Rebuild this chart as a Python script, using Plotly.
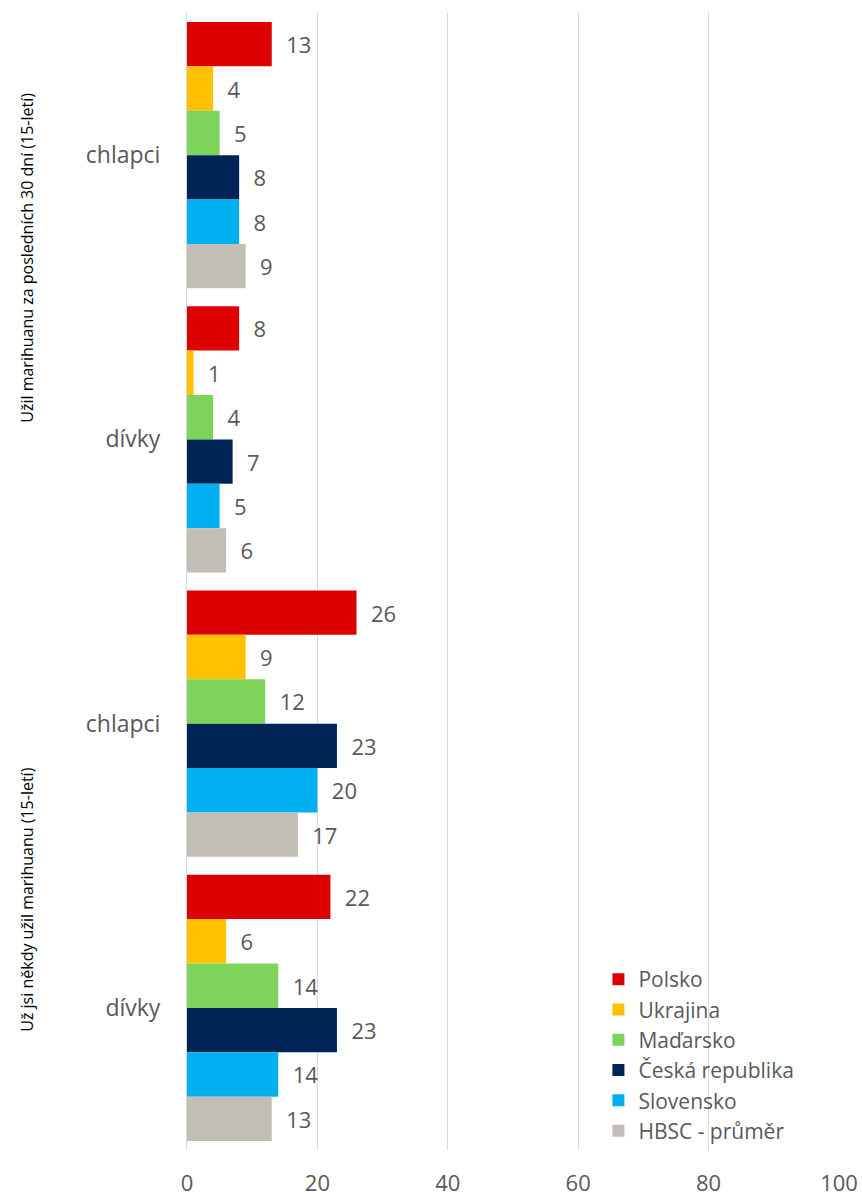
import plotly.graph_objects as go

categories = ["g1|chlapci", "g1|dívky", "g2|chlapci", "g2|dívky"]
tick_labels = ["chlapci", "dívky", "chlapci", "dívky"]
group_labels = ["Užil marihuanu za posledních 30 dní (15-letí)", "Už jsi někdy užil marihuanu (15-letí)"]

series_names = ["Polsko", "Ukrajina", "Maďarsko", "Česká republika", "Slovensko", "HBSC - průměr"]
polsko = [13, 8, 26, 22]
ukrajina = [4, 1, 9, 6]
madarsko = [5, 4, 12, 14]
ceska = [8, 7, 23, 23]
slovensko = [8, 5, 20, 14]
hbsc = [9, 6, 17, 13]
series_values = [polsko, ukrajina, madarsko, ceska, slovensko, hbsc]
colors = ["#DD0000", "#FFC000", "#7ED35A", "#002456", "#00B0F0", "#C3BEB5"]

x_ticks = [0, 20, 40, 60, 80, 100]

FONT = "'Open Sans', sans-serif"
GRAY = "#595959"

fig = go.Figure()
for name, vals, col in zip(series_names, series_values, colors):
    fig.add_trace(go.Bar(
        y=categories, x=vals, name=name, orientation="h",
        marker=dict(color=col, line=dict(width=0)),
        text=[f"  {v}" for v in vals], textposition="outside",
        textfont=dict(size=22, color=GRAY, family=FONT),
        cliponaxis=False,
    ))

fig.update_layout(
    width=862, height=1198,
    margin=dict(l=187, r=23, t=13, b=48),
    barmode="group", bargap=0.063, bargroupgap=0,
    plot_bgcolor="white", paper_bgcolor="white",
    font=dict(family=FONT, color=GRAY),
    legend=dict(x=0.631, y=0.168, xanchor="left", yanchor="top",
                font=dict(size=21, color=GRAY, family=FONT),
                bgcolor="rgba(0,0,0,0)", itemsizing="constant"),
    showlegend=True,
)
fig.update_xaxes(range=[0, 100], tickvals=x_ticks, showgrid=True, gridcolor="#D9D9D9",
                 gridwidth=1, zeroline=False, showline=False, automargin=False,
                 tickfont=dict(size=22, color=GRAY, family=FONT), ticks="", ticklabelstandoff=18)
fig.update_yaxes(categoryorder="array", categoryarray=categories, autorange="reversed",
                 tickmode="array", tickvals=categories, ticktext=tick_labels, automargin=False,
                 tickfont=dict(size=23, color=GRAY, family=FONT), ticks="",
                 showline=True, linecolor="#D9D9D9", linewidth=1, ticklabelstandoff=21)

ann_y = [258, 900]
for lbl, py in zip(group_labels, ann_y):
    fig.add_annotation(text=lbl, xref="paper", yref="paper",
                       x=(27 - 187) / 651, y=(1150 - py) / 1137,
                       xanchor="center", yanchor="middle",
                       textangle=-90, showarrow=False,
                       font=dict(size=16, color="black", family=FONT))

fig.write_html("out.html")
